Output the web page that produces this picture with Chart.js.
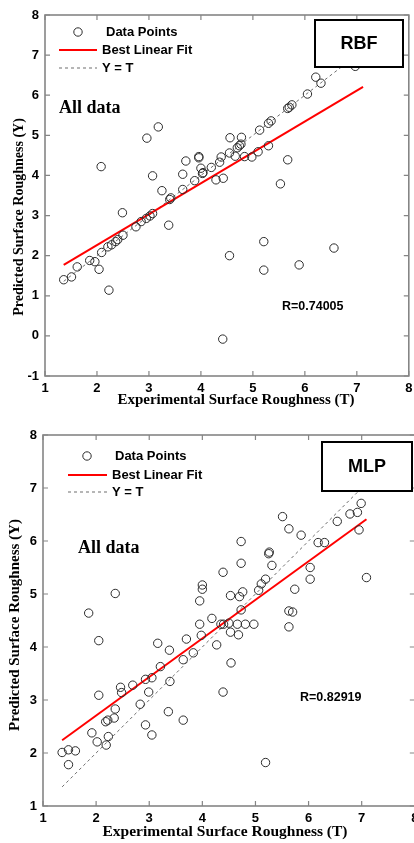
<!DOCTYPE html>
<html>
<head>
<meta charset="utf-8">
<script src="https://cdn.jsdelivr.net/npm/chart.js@4.4.1/dist/chart.umd.min.js"></script>
<style>
  html, body { margin: 0; padding: 0; background: #fff; overflow: hidden; width: 414px; height: 843px; }
  canvas { position: absolute; left: 0; }
  #chartRbf { top: 0; }
  #chartMlp { top: 420px; }
</style>
</head>
<body>
<canvas id="chartRbf" width="414" height="412"></canvas>
<canvas id="chartMlp" width="420" height="423"></canvas>
<script>
// ---- data ----
const xTicks = [1, 2, 3, 4, 5, 6, 7, 8];
const rbfYTicks = [-1, 0, 1, 2, 3, 4, 5, 6, 7, 8];
const mlpYTicks = [1, 2, 3, 4, 5, 6, 7, 8];

// RBF: experimental (T) vs predicted (Y)
const rbfT = [1.36, 1.51, 1.62, 1.86, 1.96, 2.04, 2.23, 2.09, 2.21, 2.28, 2.36, 2.40, 2.50, 2.75, 2.85,
  2.95, 3.02, 3.07, 2.49, 3.38, 2.08, 2.96, 3.18, 3.07, 3.25, 3.40, 3.42, 3.65, 3.71, 3.65,
  3.88, 3.96, 3.96, 4.00, 4.03, 4.04, 4.29, 4.43, 4.20, 4.36, 4.39, 4.55, 4.56, 4.66, 4.70,
  4.74, 4.77, 4.78, 4.84, 4.98, 5.10, 5.30, 5.13, 5.30, 5.35, 5.67, 5.70, 5.75, 6.05, 6.21,
  6.31, 6.97, 5.67, 5.53, 4.55, 5.21, 5.21, 5.89, 6.56, 4.42];
const rbfY = [1.40, 1.47, 1.72, 1.88, 1.85, 1.66, 1.14, 2.08, 2.22, 2.27, 2.35, 2.40, 2.51, 2.72, 2.85,
  2.93, 2.99, 3.05, 3.07, 2.76, 4.22, 4.93, 5.21, 3.99, 3.62, 3.40, 3.44, 4.03, 4.36, 3.65,
  3.87, 4.44, 4.47, 4.18, 4.05, 4.07, 3.89, 3.93, 4.20, 4.33, 4.46, 4.56, 4.94, 4.48, 4.69,
  4.74, 4.78, 4.95, 4.47, 4.46, 4.59, 4.74, 5.13, 5.30, 5.36, 5.67, 5.70, 5.76, 6.03, 6.45,
  6.30, 6.72, 4.39, 3.79, 2.00, 2.35, 1.64, 1.77, 2.19, -0.08];
const rbfFitT = [1.36, 7.12];
const rbfFitY = [1.77, 6.21];

// MLP: experimental (T) vs predicted (Y)
const mlpT = [1.36, 1.48, 1.61, 1.48, 1.92, 2.02, 2.19, 2.23, 2.18, 2.22, 2.34, 2.36, 2.05, 2.46, 2.48,
  2.69, 2.83, 2.93, 3.05, 2.93, 3.05, 2.99, 3.36, 3.39, 3.64, 3.21, 3.64, 3.83, 3.38, 3.16,
  3.70, 2.05, 1.86, 2.36, 3.98, 4.27, 4.39, 4.54, 5.19, 3.95, 3.95, 4.00, 4.00, 4.18, 4.35,
  4.40, 4.50, 4.66, 4.81, 4.97, 4.53, 4.68, 4.39, 4.53, 4.70, 4.76, 4.73, 4.73, 4.73, 5.06,
  5.11, 5.19, 5.25, 5.26, 5.31, 5.51, 5.63, 5.86, 5.63, 5.70, 5.63, 5.74, 6.03, 6.03, 6.18,
  6.30, 6.54, 6.78, 6.92, 6.99, 6.95, 7.09];
const mlpY = [2.01, 2.06, 2.04, 1.78, 2.38, 2.21, 2.15, 2.31, 2.59, 2.62, 2.66, 2.83, 3.09, 3.24, 3.14,
  3.28, 2.92, 2.53, 2.34, 3.39, 3.42, 3.15, 2.78, 3.35, 2.62, 3.63, 3.76, 3.89, 3.94, 4.07,
  4.15, 4.12, 4.64, 5.01, 4.22, 4.04, 3.15, 3.70, 1.82, 4.43, 4.87, 5.09, 5.17, 4.54, 4.43,
  4.43, 4.45, 4.43, 4.43, 4.43, 4.28, 4.23, 5.41, 4.97, 4.95, 5.04, 4.70, 5.58, 5.99, 5.07,
  5.19, 5.28, 5.76, 5.79, 5.54, 6.46, 6.23, 6.11, 4.68, 4.66, 4.38, 5.09, 5.50, 5.28, 5.97,
  5.97, 6.37, 6.51, 6.54, 6.71, 6.21, 5.31];
const mlpFitT = [1.36, 7.09];
const mlpFitY = [2.24, 6.41];

const identityT = [1.36, 7.2];

const toPoints = (xs, ys) => xs.map((x, i) => ({ x: x, y: ys[i] }));

const POINT_COLOR = '#2b2b2b';
const FIT_COLOR = '#ff0000';
const DASH_COLOR = '#6e6e6e';
const FRAME_COLOR = '#858585';

// frame, inward ticks, legend, labels and the method box (drawn MATLAB style)
const panelDecor = {
    id: 'panelDecor',
    afterDatasetsDraw(chart, args, o) {
        const ctx = chart.ctx;
        const a = chart.chartArea;
        const xs = chart.scales.x, ys = chart.scales.y;
        ctx.save();

        // frame
        ctx.strokeStyle = FRAME_COLOR;
        ctx.lineWidth = 1.6;
        ctx.strokeRect(a.left, a.top, a.right - a.left, a.bottom - a.top);
        // inward ticks on all four sides
        ctx.lineWidth = 1.2;
        ctx.beginPath();
        xs.ticks.forEach(t => {
            const px = xs.getPixelForValue(t.value);
            ctx.moveTo(px, a.bottom); ctx.lineTo(px, a.bottom - 5);
            ctx.moveTo(px, a.top); ctx.lineTo(px, a.top + 5);
        });
        ys.ticks.forEach(t => {
            const py = ys.getPixelForValue(t.value);
            ctx.moveTo(a.left, py); ctx.lineTo(a.left + 5, py);
            ctx.moveTo(a.right, py); ctx.lineTo(a.right - 5, py);
        });
        ctx.stroke();

        // method box
        const b = o.box;
        ctx.fillStyle = '#fff';
        ctx.fillRect(b.x, b.y, b.w, b.h);
        ctx.strokeStyle = '#000';
        ctx.lineWidth = 2;
        ctx.strokeRect(b.x, b.y, b.w, b.h);
        ctx.fillStyle = '#000';
        ctx.font = 'bold 18px "Liberation Sans", Arial, sans-serif';
        ctx.textAlign = 'center';
        ctx.textBaseline = 'middle';
        ctx.fillText(o.method, b.x + b.w / 2, b.y + b.h / 2 + 1);

        // legend
        const L = o.legend;
        ctx.strokeStyle = POINT_COLOR;
        ctx.lineWidth = 1;
        ctx.beginPath();
        ctx.arc(L.markX, L.row1, 4.2, 0, Math.PI * 2);
        ctx.stroke();
        ctx.strokeStyle = FIT_COLOR;
        ctx.lineWidth = 2;
        ctx.beginPath();
        ctx.moveTo(L.lineX0, L.row2); ctx.lineTo(L.lineX1, L.row2);
        ctx.stroke();
        ctx.strokeStyle = DASH_COLOR;
        ctx.lineWidth = 1;
        ctx.setLineDash([3, 3]);
        ctx.beginPath();
        ctx.moveTo(L.lineX0, L.row3); ctx.lineTo(L.lineX1, L.row3);
        ctx.stroke();
        ctx.setLineDash([]);
        ctx.fillStyle = '#000';
        ctx.font = 'bold 13px "Liberation Sans", Arial, sans-serif';
        ctx.textAlign = 'left';
        ctx.fillText('Data Points', L.text1, L.row1);
        ctx.fillText('Best Linear Fit', L.text2, L.row2);
        ctx.fillText('Y = T', L.text2, L.row3);

        // notes
        ctx.font = 'bold 18px "Liberation Serif", "Times New Roman", serif';
        ctx.fillText('All data', o.allData.x, o.allData.y);
        ctx.font = 'bold 12.5px "Liberation Sans", Arial, sans-serif';
        ctx.fillText(o.rText, o.rPos.x, o.rPos.y);

        // axis titles
        ctx.textAlign = 'center';
        ctx.font = 'bold ' + o.xTitle.size + 'px "Liberation Serif", "Times New Roman", serif';
        ctx.fillText('Experimental Surface Roughness (T)', o.xTitle.x, o.xTitle.y);
        ctx.translate(o.yTitle.x, o.yTitle.y);
        ctx.rotate(-Math.PI / 2);
        ctx.font = 'bold ' + o.yTitle.size + 'px "Liberation Serif", "Times New Roman", serif';
        ctx.fillText('Predicted Surface Roughness (Y)', 0, 0);
        ctx.restore();
    }
};

function makePanel(id, p) {
    const tickFont = { family: '"Liberation Sans", Arial, sans-serif', size: 13, weight: 'bold' };
    new Chart(document.getElementById(id).getContext('2d'), {
        type: 'scatter',
        data: {
            datasets: [
                {
                    label: 'Data Points',
                    data: toPoints(p.t, p.y),
                    pointRadius: 4.2,
                    pointBorderWidth: 1,
                    pointBorderColor: POINT_COLOR,
                    pointBackgroundColor: 'rgba(0,0,0,0)',
                    showLine: false,
                    order: 1
                },
                {
                    label: 'Best Linear Fit',
                    data: toPoints(p.fitT, p.fitY),
                    showLine: true,
                    borderColor: FIT_COLOR,
                    borderWidth: 2,
                    pointRadius: 0,
                    order: 2
                },
                {
                    label: 'Y = T',
                    data: toPoints(identityT, identityT),
                    showLine: true,
                    borderColor: DASH_COLOR,
                    borderWidth: 1,
                    borderDash: [3, 3],
                    pointRadius: 0,
                    order: 3
                }
            ]
        },
        options: {
            responsive: false,
            animation: false,
            devicePixelRatio: 1,
            layout: { padding: { top: 15, right: 4, left: 0, bottom: 0 } },
            scales: {
                x: {
                    type: 'linear',
                    min: xTicks[0],
                    max: xTicks[xTicks.length - 1],
                    afterBuildTicks: s => { s.ticks = xTicks.map(v => ({ value: v })); },
                    afterFit: s => { s.height = p.xAxisHeight; s.paddingLeft = 0; s.paddingRight = 0; },
                    grid: { display: false, drawTicks: false },
                    border: { display: false },
                    ticks: { font: tickFont, color: '#000', padding: 5, maxRotation: 0 }
                },
                y: {
                    type: 'linear',
                    min: p.yTicks[0],
                    max: p.yTicks[p.yTicks.length - 1],
                    afterBuildTicks: s => { s.ticks = p.yTicks.map(v => ({ value: v })); },
                    afterFit: s => { s.width = p.yAxisWidth; s.paddingTop = 0; s.paddingBottom = 0; },
                    grid: { display: false, drawTicks: false },
                    border: { display: false },
                    ticks: { font: tickFont, color: '#000', padding: 6 }
                }
            },
            plugins: {
                legend: { display: false },
                tooltip: { enabled: false },
                panelDecor: p.decor
            }
        },
        plugins: [panelDecor]
    });
}

makePanel('chartRbf', {
    t: rbfT, y: rbfY, fitT: rbfFitT, fitY: rbfFitY, yTicks: rbfYTicks,
    yAxisWidth: 45, xAxisHeight: 36,
    decor: {
        method: 'RBF',
        box: { x: 315, y: 20, w: 88, h: 47 },
        legend: { markX: 78, lineX0: 59, lineX1: 97, text1: 106, text2: 102, row1: 32, row2: 50, row3: 68 },
        allData: { x: 59, y: 108 },
        rText: 'R=0.74005', rPos: { x: 282, y: 307 },
        xTitle: { x: 236, y: 400, size: 15 },
        yTitle: { x: 19, y: 217, size: 14 }
    }
});

makePanel('chartMlp', {
    t: mlpT, y: mlpY, fitT: mlpFitT, fitY: mlpFitY, yTicks: mlpYTicks,
    yAxisWidth: 43, xAxisHeight: 37,
    decor: {
        method: 'MLP',
        box: { x: 322, y: 22, w: 90, h: 49 },
        legend: { markX: 87, lineX0: 68, lineX1: 107, text1: 115, text2: 112, row1: 36, row2: 55, row3: 72 },
        allData: { x: 78, y: 128 },
        rText: 'R=0.82919', rPos: { x: 300, y: 278 },
        xTitle: { x: 225, y: 412, size: 15.5 },
        yTitle: { x: 15, y: 205, size: 15 }
    }
});
</script>
</body>
</html>
